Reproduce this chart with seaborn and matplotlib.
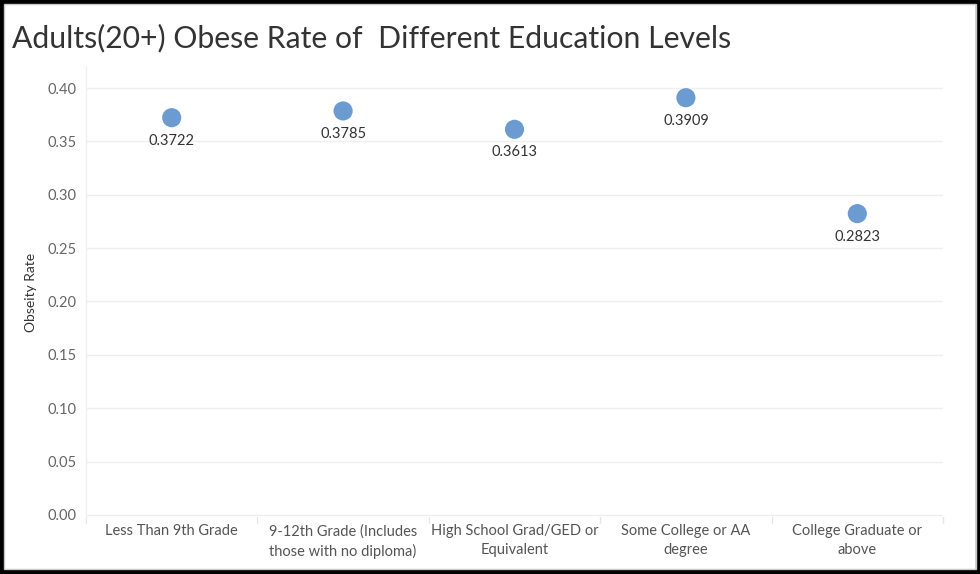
import matplotlib
matplotlib.use("Agg")
import matplotlib.pyplot as plt
import seaborn as sns
import pandas as pd
from matplotlib.patches import Rectangle

# data
education_levels = [
    "Less Than 9th Grade",
    "9-12th Grade (Includes\nthose with no diploma)",
    "High School Grad/GED or\nEquivalent",
    "Some College or AA\ndegree",
    "College Graduate or\nabove",
]
obesity_rates = [0.3722, 0.3785, 0.3613, 0.3909, 0.2823]
y_ticks = [0.00, 0.05, 0.10, 0.15, 0.20, 0.25, 0.30, 0.35, 0.40]

df = pd.DataFrame({"Education": education_levels, "Rate": obesity_rates})

sns.set_style("white")
plt.rcParams["font.family"] = ["Lato", "DejaVu Sans"]

fig = plt.figure(figsize=(9.8, 5.74), dpi=100)
ax = fig.add_axes([86 / 980, 1 - 517 / 574, (943 - 86) / 980, (517 - 67) / 574])

point_color = "#6b9bd1"
sns.scatterplot(data=df, x="Education", y="Rate", ax=ax, s=190,
                color=point_color, edgecolor="none", zorder=3)

ax.set_xlim(-0.5, len(education_levels) - 0.5)
ax.set_ylim(-0.002, 0.4197)

# labels under the points
for i, v in enumerate(obesity_rates):
    ax.annotate(f"{v:.4f}", (i, v), xytext=(0, -23), textcoords="offset pixels",
                ha="center", va="center", fontsize=10.5, color="#333333")

# gridlines
for t in y_ticks:
    ax.axhline(t, color="#efefef", lw=1, zorder=0)
ax.set_yticks(y_ticks)
ax.set_yticklabels([f"{t:.2f}" for t in y_ticks], fontsize=10.5, color="#666666")
ax.tick_params(axis="y", length=0, pad=7)

# category separators sticking below the axis
for b in [i + 0.5 for i in range(-1, len(education_levels))]:
    ax.plot([b, b], [-0.002, -0.0075], color="#e6e6e6", lw=1, clip_on=False)

ax.set_xticks(range(len(education_levels)))
ax.set_xticklabels(education_levels, fontsize=10.5, color="#555555",
                   linespacing=1.45, va="top")
ax.tick_params(axis="x", length=0, pad=5)

for side in ["top", "right", "bottom"]:
    ax.spines[side].set_visible(False)
ax.spines["left"].set_color("#f0f0f0")
ax.spines["left"].set_linewidth(1)

ax.set_xlabel("")
ax.set_ylabel("Obseity Rate", fontsize=10, color="#333333")
ax.yaxis.set_label_coords(-0.057, 0.5)

fig.text(12 / 980, 1 - 38 / 574, "Adults(20+) Obese Rate of  Different Education Levels",
         fontsize=21.7, color="#333333", ha="left", va="center")

# frame around the sheet
fig.patches.append(Rectangle((0, 0), 1, 1, transform=fig.transFigure, fill=False,
                             edgecolor="black", lw=6, zorder=10))
fig.patches.append(Rectangle((0.004, 0.008), 0.992, 0.985, transform=fig.transFigure,
                             fill=False, edgecolor="#c8c8c8", lw=1, zorder=10))

fig.savefig("out.png", dpi=100)
